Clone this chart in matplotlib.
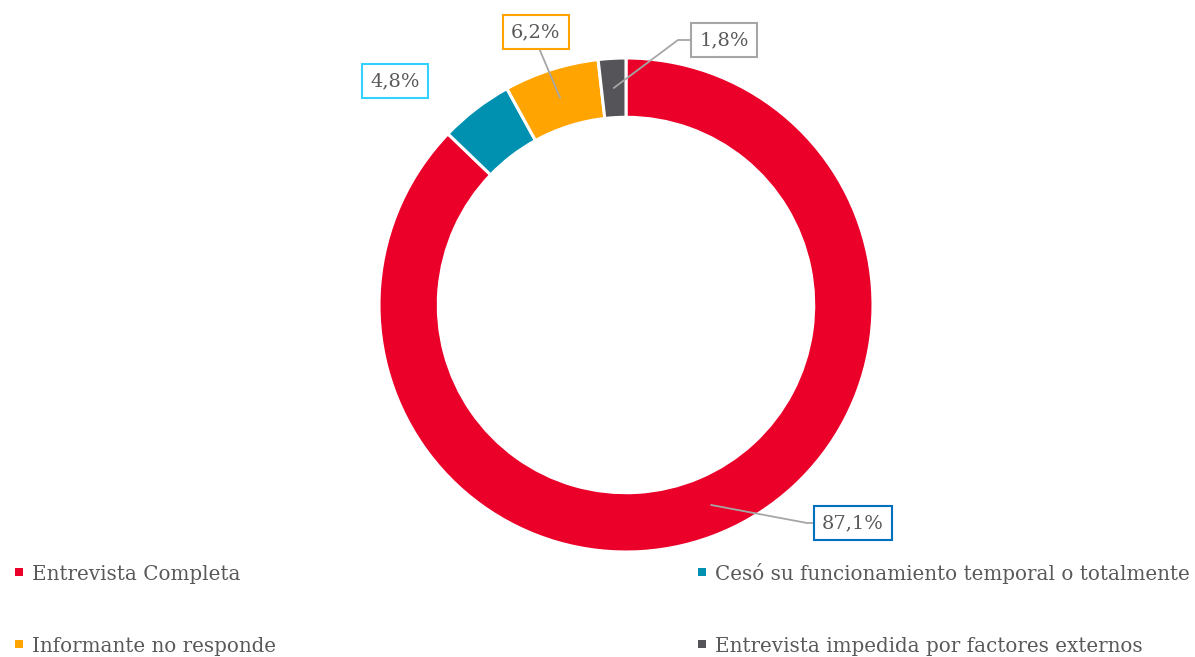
import numpy as np
import matplotlib
matplotlib.use("Agg")
import matplotlib.pyplot as plt
from matplotlib.patches import Rectangle

# Data
categories = ["Entrevista Completa",
              "Cesó su funcionamiento temporal o totalmente",
              "Informante no responde",
              "Entrevista impedida por factores externos"]
values = [87.1, 4.8, 6.2, 1.8]
colors = ["#EA0029", "#0090B0", "#FFA400", "#545459"]
box_colors = ["#0070C0", "#33D1FF", "#FFA400", "#A6A6A6"]

W, H = 1195, 657
CX, CY, R = 626, 305, 247   # pie centre / radius in pixels

TEXT = "#595959"
FONT = "DejaVu Serif"


def fmt(v):
    return ("%.1f" % v).replace(".", ",") + "%"


def main():
    plt.rcParams["font.family"] = FONT
    fig = plt.figure(figsize=(W / 100, H / 100), dpi=100)
    ax = fig.add_axes([(CX - R) / W, (H - CY - R) / H, 2 * R / W, 2 * R / H])
    wedges, _ = ax.pie(values, colors=colors, startangle=90, counterclock=False,
                       radius=1, wedgeprops=dict(width=0.24, edgecolor="white", linewidth=2.2))
    ax.set_xlim(-1, 1)
    ax.set_ylim(-1, 1)
    ax.set_aspect("equal")
    ax.axis("off")

    # label box centres in pixels, and leader type
    label_pos = [(853, 523), (395, 81), (536, 32), (724, 40)]
    leaders = ["elbow", None, "straight", "elbow"]
    box_half_w = 35
    for i, w in enumerate(wedges):
        ang = np.deg2rad((w.theta1 + w.theta2) / 2)
        px, py = label_pos[i]
        xt = (px - CX) / R
        yt = (CY - py) / R
        xp = 0.88 * np.cos(ang)
        yp = 0.88 * np.sin(ang)
        bbox = dict(boxstyle="square,pad=0.42", fc="white", ec=box_colors[i], lw=1.5)
        if leaders[i] is None:
            ax.text(xt, yt, fmt(values[i]), ha="center", va="center", fontsize=14,
                    color=TEXT, bbox=bbox, clip_on=False)
            continue
        if leaders[i] == "elbow":
            # corner a little to the left of the box edge
            cx = (px - box_half_w - 11 - CX) / R
            angB = np.degrees(np.arctan2(yt - yp, cx - xp))
            conn = "angle,angleA=0,angleB=%.2f,rad=0" % angB
            rel = (0, 0.5)
        else:
            conn = "arc3"
            rel = (0.5, 0)
        ax.annotate(fmt(values[i]), xy=(xp, yp), xytext=(xt, yt),
                    ha="center", va="center", fontsize=14, color=TEXT, bbox=bbox,
                    arrowprops=dict(arrowstyle="-", color="#A6A6A6", lw=1.3,
                                    shrinkA=0, shrinkB=0, relpos=rel,
                                    connectionstyle=conn),
                    annotation_clip=False)

    # legend, two columns
    legend_x = [(19, 32), (702, 715), (19, 32), (702, 715)]
    legend_y = [580, 580, 652, 652]
    ms = 8
    for i, name in enumerate(categories):
        mx, tx = legend_x[i]
        by = legend_y[i]
        my = by - 8  # marker centre, pixels from top
        fig.patches.append(Rectangle(((mx - ms / 2) / W, 1 - (my + ms / 2) / H), ms / W, ms / H,
                                     transform=fig.transFigure, facecolor=colors[i],
                                     edgecolor="none"))
        fig.text(tx / W, 1 - by / H, name, fontsize=14.3, color=TEXT,
                 ha="left", va="baseline")

    fig.savefig("out.png", dpi=100)


if __name__ == "__main__":
    main()
